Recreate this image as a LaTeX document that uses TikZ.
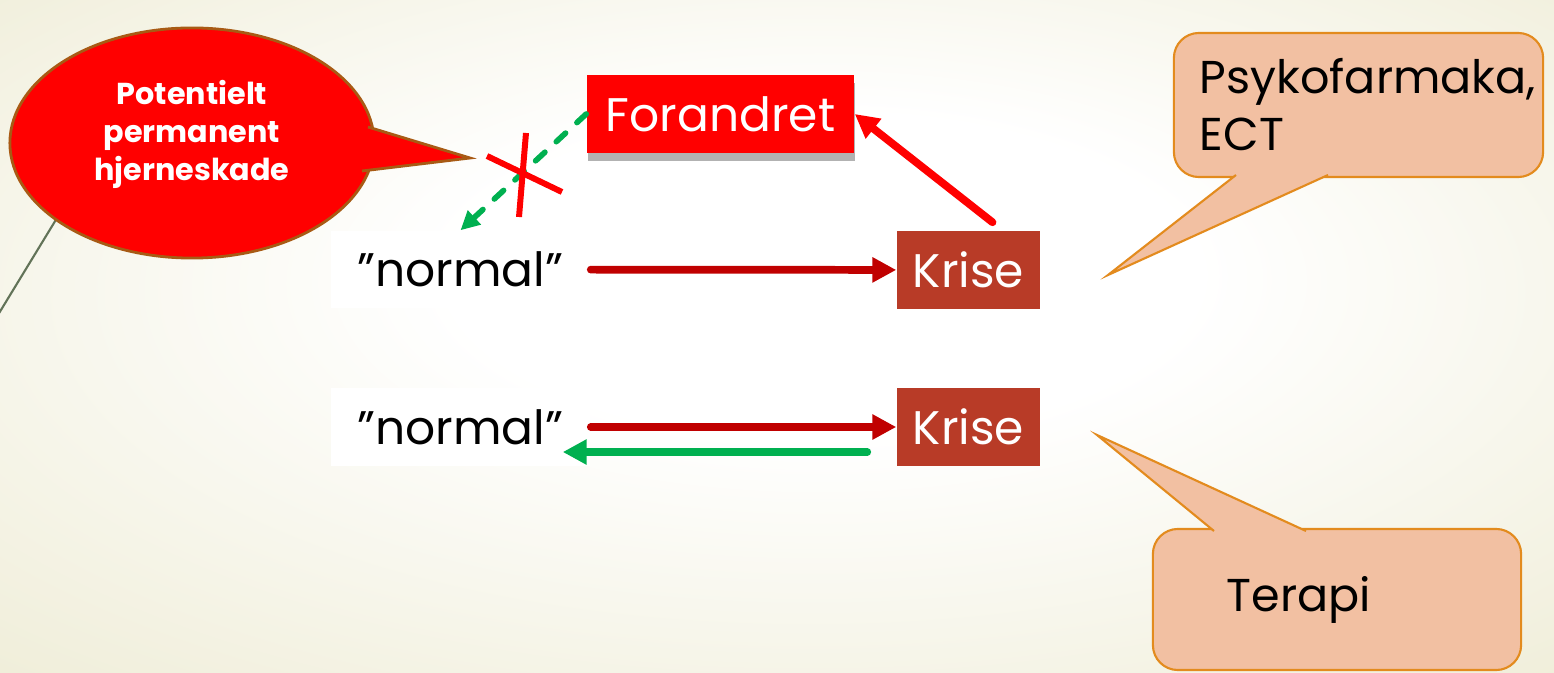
\documentclass[tikz,border=0pt]{standalone}
\usepackage{fontspec}
\setmainfont{Poppins}
\usetikzlibrary{arrows.meta,shapes.geometric,shadows}
\definecolor{krisered}{HTML}{B83B27}
\definecolor{darkred}{HTML}{C00000}
\definecolor{pptgreen}{HTML}{00B050}
\definecolor{peach}{HTML}{F2C0A2}
\definecolor{peachline}{HTML}{E38B1E}
\definecolor{brownline}{HTML}{A85A14}
\definecolor{bgedge}{HTML}{E8E5C6}
\definecolor{stemgray}{HTML}{627358}
\pgfdeclareradialshading{slideglow}{\pgfpoint{2bp}{6bp}}{color(0bp)=(white); color(12bp)=(white); color(50bp)=(bgedge)}

\begin{document}
\begin{tikzpicture}[x=0.01cm, y=-0.01cm,
	plain/.style = {fill=white, minimum width=2.59cm, minimum height=0.77cm, inner sep=0pt, font=\fontsize{13.4}{16}\selectfont},
	crisis/.style = {fill=krisered, text=white, minimum width=1.43cm, minimum height=0.78cm, inner sep=0pt, font=\fontsize{13.4}{16}\selectfont},
	changed/.style = {fill=red, text=white, minimum width=2.67cm, minimum height=0.78cm, inner sep=0pt, drop shadow={shadow xshift=0.3pt, shadow yshift=-2.4pt, opacity=0.3, fill=black}, font=\fontsize{13.4}{16}\selectfont},
	note/.style = {fill=peach, draw=peachline, line width=0.6pt, rounded corners=0.25cm, inner sep=0pt, align=left, font=\fontsize{13.1}{16.2}\selectfont},
	notetail/.style = {fill=peach, draw=peachline, line width=0.6pt},
	warn/.style = {ellipse, fill=red, draw=brownline, line width=0.8pt, minimum width=3.64cm, minimum height=2.3cm, inner sep=0pt},
	warntail/.style = {fill=red, draw=brownline, line width=0.8pt},
	warntext/.style = {text=white, align=center, inner sep=0pt, font=\bfseries\fontsize{8.6}{10.8}\selectfont},
	flow/.style = {line width=2.2pt, line cap=round, -{Triangle[length=6.8pt, width=6.8pt]}},
	dashflow/.style = {pptgreen, line width=1.6pt, line cap=round, dash pattern=on 3.6pt off 4.4pt, -{Triangle[length=5.4pt, width=5.2pt]}},
	blocked/.style = {red, line width=1.7pt}]
	% slide background
	\shade[shading=slideglow] (0,0) rectangle (1554,673);
	\useasboundingbox (0,0) rectangle (1554,673);
	\draw[stemgray, line width=0.6pt] (57,218) -- (-10,328);
	% speech bubble, left
	\node[warn] (skade) at (192,143) {};
	\filldraw[warntail] (368,127) -- (470,158) -- (362,171);
	\node[warntext] (skadetext) at (192,134) {Potentielt\\permanent\\hjerneskade};
	% boxes
	\node[changed] (forandret) at (720.5,114) {Forandret};
	\node[plain] (normal1) at (460.5,269.5) {”normal”};
	\node[crisis] (krise1) at (968.5,270) {Krise};
	\node[plain] (normal2) at (460.5,427) {”normal”};
	\node[crisis] (krise2) at (968.5,427) {Krise};
	% notes, right
	\node[note, minimum width=3.69cm, minimum height=1.44cm, text width=3.17cm] (psyk) at (1358.5,105) {Psykofarmaka,\\ECT};
	\coordinate (psyktip) at (1108,275);
	\filldraw[notetail] (1236,175) -- (psyktip) -- (1328,175);
	\node[note, minimum width=3.68cm, minimum height=1.41cm, text width=2.2cm] (terapi) at (1337,599.5) {Terapi};
	\coordinate (terapitip) at (1097,435);
	\filldraw[notetail] (1214,531) -- (terapitip) -- (1306,531);
	% arrows
	\draw[dashflow] (forandret.west) -- (normal1.north);
	\draw[blocked] (487,156) -- (562,192);
	\draw[blocked] (526,133) -- (519,217);
	\draw[flow, darkred] (normal1) -- (krise1);
	\draw[flow, red] ([xshift=0.24cm, yshift=0.08cm]krise1.north) -- (forandret.east);
	\draw[flow, darkred] (normal2) -- (krise2);
	\draw[flow, pptgreen] ([xshift=-0.29cm, yshift=-0.25cm]krise2.west) -- ([xshift=-0.28cm, yshift=-0.25cm]normal2.east);
\end{tikzpicture}
\end{document}
